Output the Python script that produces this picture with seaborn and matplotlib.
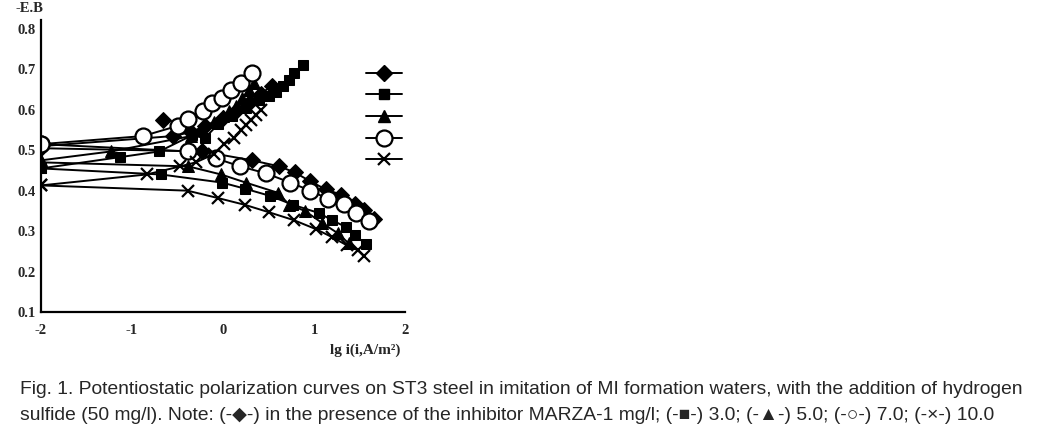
import matplotlib
matplotlib.use("Agg")
import matplotlib.pyplot as plt
import seaborn as sns
from matplotlib.lines import Line2D

# inhibitor 1 mg/l (diamonds)
d_an_x = [-2, -0.55, -0.35, -0.2, 0.0, 0.15, 0.3, 0.42, 0.54]
d_an_y = [0.51, 0.535, 0.545, 0.56, 0.58, 0.6, 0.62, 0.64, 0.66]
d_out_x = [-0.66]
d_out_y = [0.575]
d_ca_x = [-2, -0.23, 0.32, 0.62, 0.79, 0.96, 1.13, 1.3, 1.45, 1.55, 1.66]
d_ca_y = [0.505, 0.497, 0.475, 0.46, 0.445, 0.423, 0.403, 0.39, 0.367, 0.353, 0.33]

# 3.0 (squares)
s_an_x = [-2, -1.13, -0.7, -0.34, -0.2, -0.05, 0.1, 0.25, 0.4, 0.5, 0.58, 0.66, 0.72, 0.78, 0.88]
s_an_y = [0.455, 0.483, 0.497, 0.537, 0.53, 0.565, 0.585, 0.605, 0.625, 0.635, 0.645, 0.658, 0.673, 0.69, 0.71]
s_ca_x = [-2, -0.68, -0.01, 0.24, 0.52, 0.77, 1.05, 1.2, 1.35, 1.45, 1.57]
s_ca_y = [0.455, 0.44, 0.42, 0.405, 0.387, 0.365, 0.345, 0.327, 0.31, 0.29, 0.268]

# 5.0 (triangles)
t_an_x = [-2, -1.23, -0.35, -0.25, -0.1, 0.0, 0.07, 0.14, 0.21, 0.29, 0.34]
t_an_y = [0.475, 0.497, 0.535, 0.55, 0.57, 0.585, 0.597, 0.61, 0.63, 0.648, 0.665]
t_ca_x = [-2, -0.38, -0.02, 0.25, 0.6, 0.73, 0.9, 1.09, 1.26, 1.38]
t_ca_y = [0.47, 0.46, 0.44, 0.42, 0.395, 0.365, 0.35, 0.32, 0.295, 0.27]

# 7.0 (open circles)
c_an_x = [-2, -0.88, -0.5, -0.38, -0.22, -0.12, -0.01, 0.09, 0.2, 0.32]
c_an_y = [0.515, 0.535, 0.56, 0.577, 0.597, 0.618, 0.63, 0.65, 0.665, 0.69]
c_ca_x = [-2, -0.38, -0.08, 0.19, 0.47, 0.74, 0.96, 1.15, 1.33, 1.46, 1.6]
c_ca_y = [0.515, 0.497, 0.48, 0.46, 0.443, 0.42, 0.40, 0.38, 0.367, 0.345, 0.325]

# 10.0 (crosses)
x_an_x = [-2, -0.84, -0.47, -0.3, -0.1, 0.01, 0.12, 0.2, 0.25, 0.31, 0.36, 0.42]
x_an_y = [0.413, 0.44, 0.46, 0.47, 0.49, 0.515, 0.53, 0.55, 0.562, 0.575, 0.588, 0.6]
x_ca_x = [-2, -0.39, -0.06, 0.24, 0.5, 0.78, 1.02, 1.2, 1.36, 1.48, 1.55]
x_ca_y = [0.413, 0.40, 0.382, 0.365, 0.347, 0.327, 0.305, 0.285, 0.265, 0.253, 0.238]

yticks = [0.1, 0.2, 0.3, 0.4, 0.5, 0.6, 0.7, 0.8]
xticks = [-2, -1, 0, 1, 2]

styles = [
    dict(marker="D", markersize=8, markerfacecolor="black", markeredgecolor="black"),
    dict(marker="s", markersize=7.5, markerfacecolor="black", markeredgecolor="black"),
    dict(marker="^", markersize=8, markerfacecolor="black", markeredgecolor="black"),
    dict(marker="o", markersize=11.5, markerfacecolor="white", markeredgecolor="black", markeredgewidth=1.6),
    dict(marker="x", markersize=8, markeredgecolor="black", markeredgewidth=1.6),
]
branches = [
    [(d_an_x, d_an_y), (d_ca_x, d_ca_y)],
    [(s_an_x, s_an_y), (s_ca_x, s_ca_y)],
    [(t_an_x, t_an_y), (t_ca_x, t_ca_y)],
    [(c_an_x, c_an_y), (c_ca_x, c_ca_y)],
    [(x_an_x, x_an_y), (x_ca_x, x_ca_y)],
]

sns.set_style("white")
serif = ["Liberation Serif", "DejaVu Serif"]

fig = plt.figure(figsize=(10.41, 4.41), dpi=100)
ax = fig.add_axes([41 / 1041, 1 - 312 / 441, 364 / 1041, 292 / 441])

for st, br in zip(styles, branches):
    for bx, by in br:
        sns.lineplot(x=bx, y=by, ax=ax, color="black", linewidth=1.4,
                     sort=False, estimator=None, **st)
# stray diamond point off the anodic curve
sns.lineplot(x=d_out_x, y=d_out_y, ax=ax, color="black", linewidth=0, **styles[0])

ax.set_xlim(-2, 2)
ax.set_ylim(0.1, 0.822)
ax.set_xticks(xticks)
ax.set_yticks(yticks)
ax.set_xticklabels([str(t) for t in xticks], family=serif, fontweight="bold", fontsize=10.5)
ax.set_yticklabels([f"{t:.1f}" for t in yticks], family=serif, fontweight="bold", fontsize=10.5)
ax.tick_params(axis="y", direction="out", length=3, width=1.2, pad=1)
ax.tick_params(axis="x", direction="in", length=3, width=1.2, pad=9)
for side in ["top", "right"]:
    ax.spines[side].set_visible(False)
for side in ["left", "bottom"]:
    ax.spines[side].set_linewidth(1.6)
    ax.spines[side].set_color("black")

fig.text(15 / 1041, 1 - 8 / 441, "-E.B", family=serif, fontweight="bold",
         fontsize=10.5, va="center", ha="left")
fig.text(365 / 1041, 1 - 350 / 441, "lg i(i,A/m\u00b2)", family=serif,
         fontweight="bold", fontsize=11, va="center", ha="center")

handles = [Line2D([0], [0], color="black", linewidth=1.4, **st) for st in styles]
fig.legend(handles, [""] * 5, frameon=False, loc="upper left",
           bbox_to_anchor=(353 / 1041, 1 - 54 / 441), handlelength=2.6,
           labelspacing=0.55, fontsize=10, handletextpad=0)

cap = ["Liberation Sans", "DejaVu Sans"]
fig.text(20 / 1041, 1 - 389 / 441,
         "Fig. 1. Potentiostatic polarization curves on ST3 steel in imitation of MI "
         "formation waters, with the addition of hydrogen",
         family=cap, fontsize=13.9, va="center", ha="left")
fig.text(20 / 1041, 1 - 416 / 441,
         "sulfide (50 mg/l). Note: (-\u25c6-) in the presence of the inhibitor MARZA-1 mg/l; "
         "(-\u25a0-) 3.0; (-\u25b2-) 5.0; (-\u25cb-) 7.0; (-\u00d7-) 10.0",
         family=cap, fontsize=13.9, va="center", ha="left")

fig.savefig("out.png", dpi=100)
